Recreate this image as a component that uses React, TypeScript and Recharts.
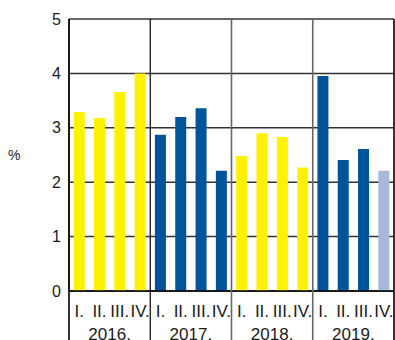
import React from "react";
import { BarChart, Bar, XAxis, YAxis, CartesianGrid, Cell } from "recharts";

// Quarterly rate, per cent
const years = ["2016.", "2017.", "2018.", "2019."];
const quarters = ["I.", "II.", "III.", "IV."];
const values2016 = [3.29, 3.18, 3.66, 4.0];
const values2017 = [2.87, 3.2, 3.36, 2.21];
const values2018 = [2.48, 2.9, 2.83, 2.27];
const values2019 = [3.95, 2.41, 2.61, 2.21];
// The last quarter shown is still a preliminary figure
const preliminary = ["2019.-IV."];
const yTicks = [0, 1, 2, 3, 4, 5];

const valuesByYear = [values2016, values2017, values2018, values2019];

const data = years.flatMap((year, yi) =>
  quarters.map((q, qi) => ({
    key: `${year}-${q}`,
    year,
    quarter: q,
    yearIndex: yi,
    value: valuesByYear[yi][qi],
  }))
);

const YELLOW = "#fff200";
const BLUE = "#00549a";
const LIGHT_BLUE = "#a7b8da";
const FONT = "'Liberation Sans', Arial, sans-serif";

const W = 395;
const H = 340;
const MARGIN = { top: 19, right: 1, left: 0, bottom: 0 };
const Y_AXIS_W = 69;
const X_AXIS_H = 49;
const PLOT_H = H - MARGIN.top - MARGIN.bottom - X_AXIS_H;
const N = data.length;

const barColor = (d: (typeof data)[number]) => {
  if (preliminary.includes(d.key)) return LIGHT_BLUE;
  return d.yearIndex % 2 === 0 ? YELLOW : BLUE;
};

// Quarter label, year label under each group, and group separators
const XTick = (props: any) => {
  const { x, y, payload } = props;
  const index: number = payload.index;
  const half: number =
    payload.offset ?? (W - Y_AXIS_W - MARGIN.right) / N / 2;
  const d = data[index];
  const qi = index % 4;
  const top = y - PLOT_H;
  const parts: React.ReactNode[] = [];
  if (qi === 0) {
    const sepColor = index === 4 ? "#000" : index === 0 ? "#000" : "#666";
    parts.push(
      <line
        key="sep"
        x1={x - half}
        x2={x - half}
        y1={index === 0 ? y : top}
        y2={H + 10}
        stroke={sepColor}
        strokeWidth={index === 4 ? 1.2 : 1.6}
      />
    );
  }
  if (index === N - 1) {
    parts.push(
      <line
        key="right"
        x1={x + half}
        x2={x + half}
        y1={top}
        y2={H + 10}
        stroke="#000"
        strokeWidth={1.6}
      />
    );
  }
  parts.push(
    <text
      key="q"
      x={x}
      y={y + 26}
      textAnchor="middle"
      fontSize={17}
      fontFamily={FONT}
      fill="#1a1a1a"
    >
      {d.quarter}
    </text>
  );
  if (qi === 1) {
    parts.push(
      <text
        key="yr"
        x={x + half}
        y={y + 49}
        textAnchor="middle"
        fontSize={17}
        fontFamily={FONT}
        fill="#1a1a1a"
      >
        {d.year}
      </text>
    );
  }
  return <g>{parts}</g>;
};

export default function App() {
  return (
    <div
      style={{
        position: "absolute",
        left: 0,
        top: 0,
        width: W,
        height: H,
        overflow: "hidden",
        background: "#fff",
      }}
    >
      <BarChart
        width={W}
        height={H}
        data={data}
        margin={MARGIN}
        barCategoryGap="23%"
      >
        <CartesianGrid
          vertical={false}
          stroke="#333"
          strokeWidth={1.5}
        />
        <XAxis
          dataKey="key"
          height={X_AXIS_H}
          interval={0}
          tickLine={false}
          tickSize={0}
          tickMargin={0}
          axisLine={{ stroke: "#000", strokeWidth: 1.6 }}
          tick={<XTick />}
        />
        <YAxis
          width={Y_AXIS_W}
          domain={[0, 5]}
          ticks={yTicks}
          interval={0}
          tickLine={false}
          axisLine={{ stroke: "#000", strokeWidth: 1.8 }}
          tick={{ fontSize: 16, fontFamily: FONT, fill: "#1a1a1a" }}
          label={{
            value: "%",
            position: "insideLeft",
            offset: 8,
            fontSize: 14,
            fontFamily: FONT,
            fill: "#222",
          }}
        />
        <Bar dataKey="value" isAnimationActive={false}>
          {data.map((d) => (
            <Cell key={d.key} fill={barColor(d)} />
          ))}
        </Bar>
      </BarChart>
    </div>
  );
}
